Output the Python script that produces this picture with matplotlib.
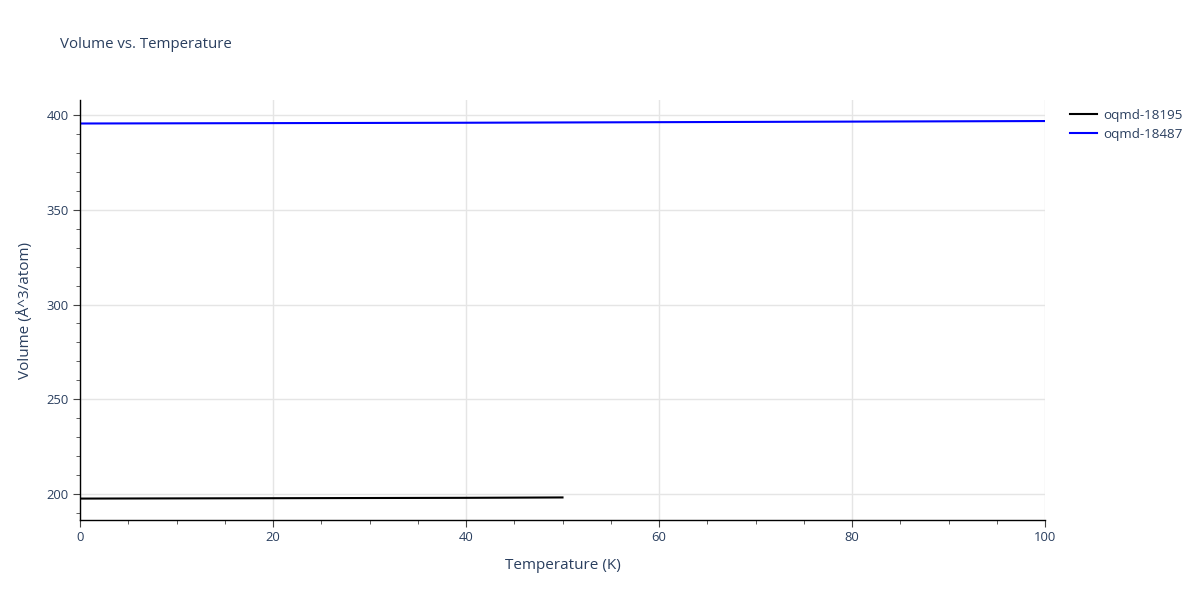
import matplotlib.pyplot as plt
from matplotlib.ticker import MultipleLocator

plt.rcParams['font.family'] = ['Open Sans', 'DejaVu Sans']

# data
temp_18195 = [0, 10, 20, 30, 40, 50]
vol_18195 = [197.6, 197.7, 197.8, 197.9, 198.0, 198.2]
temp_18487 = [0, 20, 40, 60, 80, 100]
vol_18487 = [395.5, 395.7, 395.9, 396.2, 396.5, 396.8]

txt = '#2a3f5f'
grid = '#e5e5e5'

fig = plt.figure(figsize=(12, 6), dpi=100)
ax = fig.add_axes([80/1200, 1 - 520/600, 965/1200, 420/600])

ax.plot(temp_18195, vol_18195, color='black', lw=1.5, label='oqmd-18195')
ax.plot(temp_18487, vol_18487, color='blue', lw=1.5, label='oqmd-18487')

ax.set_xlim(0, 100)
ax.set_ylim(186.3, 407.9)
ax.xaxis.set_major_locator(MultipleLocator(20))
ax.xaxis.set_minor_locator(MultipleLocator(5))
ax.yaxis.set_major_locator(MultipleLocator(50))
ax.yaxis.set_minor_locator(MultipleLocator(10))
ax.grid(True, which='major', color=grid, lw=1)
ax.set_axisbelow(True)

for s in ['top', 'right']:
    ax.spines[s].set_visible(False)
for s in ['left', 'bottom']:
    ax.spines[s].set_color('black')
    ax.spines[s].set_linewidth(1)

ax.tick_params(which='major', length=5, color='#444444', labelcolor=txt, labelsize=9.4, pad=3)
ax.tick_params(which='minor', length=3, color='#444444')

ax.set_xlabel('Temperature (K)', color=txt, fontsize=11, labelpad=10)
ax.set_ylabel('Volume (Å^3/atom)', color=txt, fontsize=11, labelpad=10)

fig.text(60/1200, 1 - 45/600, 'Volume vs. Temperature', color=txt, fontsize=10.8, va='center')

fig.legend(loc='upper left', bbox_to_anchor=(1070/1200, 1 - 109/600), frameon=False,
           fontsize=9.6, labelcolor=txt, handlelength=2.0, handletextpad=0.5,
           labelspacing=0.45, borderaxespad=0, borderpad=0)

fig.savefig('out.png', dpi=100)
